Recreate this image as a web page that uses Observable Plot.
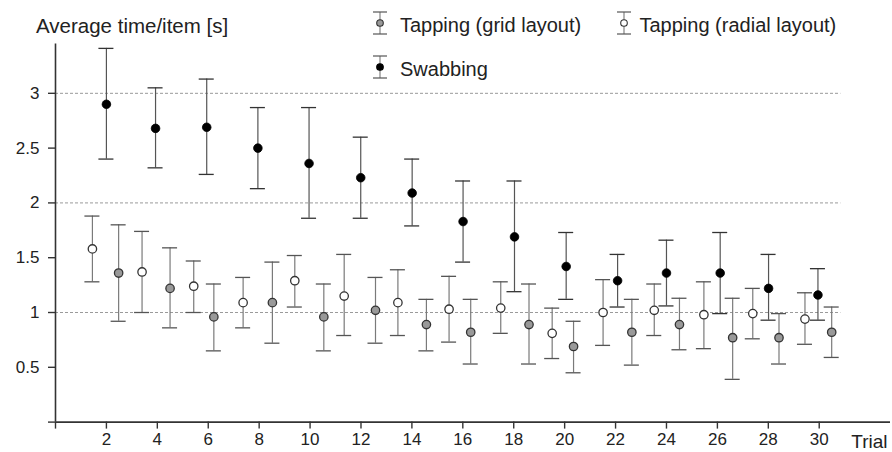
<!DOCTYPE html>
<html>
<head>
<meta charset="utf-8">
<script src="https://cdn.jsdelivr.net/npm/d3@7"></script>
<script src="https://cdn.jsdelivr.net/npm/@observablehq/plot@0.6"></script>
<style>
  html, body { margin: 0; padding: 0; background: #fff; }
  #wrap { position: relative; width: 892px; height: 452px; }
  #legend { position: absolute; left: 0; top: 0; pointer-events: none; }
  #legend text { font-family: "Liberation Sans", Arial, sans-serif; fill: #222; }
</style>
</head>
<body>
<div id="wrap"></div>
<script>
// ---- Data ----
const xTicks = [0, 2, 4, 6, 8, 10, 12, 14, 16, 18, 20, 22, 24, 26, 28, 30];
const yTicks = [0, 0.5, 1, 1.5, 2, 2.5, 3];
const gridValues = [1, 2, 3];

// Swabbing
const swabX    = [2.0, 3.93, 5.94, 7.95, 9.96, 11.99, 14.01, 16.01, 18.03, 20.06, 22.08, 24.0, 26.11, 28.01, 29.95];
const swabMean = [2.90, 2.68, 2.69, 2.50, 2.36, 2.23, 2.09, 1.83, 1.69, 1.42, 1.29, 1.36, 1.36, 1.22, 1.16];
const swabHi   = [3.41, 3.05, 3.13, 2.87, 2.87, 2.60, 2.40, 2.20, 2.20, 1.73, 1.53, 1.66, 1.73, 1.53, 1.40];
const swabLo   = [2.40, 2.32, 2.26, 2.13, 1.86, 1.86, 1.79, 1.46, 1.19, 1.12, 1.05, 1.06, 0.99, 0.93, 0.93];

// Tapping (grid layout)
const gridX    = [2.48, 4.50, 6.22, 8.52, 10.54, 12.57, 14.57, 16.31, 18.60, 20.35, 22.64, 24.51, 26.60, 28.42, 30.49];
const gridMean = [1.36, 1.22, 0.96, 1.09, 0.96, 1.02, 0.89, 0.82, 0.89, 0.69, 0.82, 0.89, 0.77, 0.77, 0.82];
const gridHi   = [1.80, 1.59, 1.26, 1.46, 1.26, 1.32, 1.12, 1.12, 1.26, 0.92, 1.12, 1.13, 1.13, 0.99, 1.05];
const gridLo   = [0.92, 0.86, 0.65, 0.72, 0.65, 0.72, 0.65, 0.53, 0.53, 0.45, 0.52, 0.66, 0.39, 0.53, 0.59];

// Tapping (radial layout)
const radX    = [1.45, 3.40, 5.43, 7.37, 9.40, 11.34, 13.45, 15.46, 17.49, 19.51, 21.51, 23.52, 25.47, 27.39, 29.44];
const radMean = [1.58, 1.37, 1.24, 1.09, 1.29, 1.15, 1.09, 1.03, 1.04, 0.81, 1.00, 1.02, 0.98, 0.99, 0.94];
const radHi   = [1.88, 1.74, 1.47, 1.32, 1.52, 1.53, 1.39, 1.33, 1.28, 1.04, 1.30, 1.26, 1.28, 1.22, 1.18];
const radLo   = [1.28, 1.00, 1.00, 0.86, 1.05, 0.79, 0.79, 0.73, 0.81, 0.58, 0.70, 0.79, 0.67, 0.76, 0.71];

const legendLabels = ["Tapping (grid layout)", "Tapping (radial layout)", "Swabbing"];
const yLabel = "Average time/item [s]";
const xLabel = "Trial";

// ---- Build tables ----
const table = (X, M, H, L) => X.map((x, i) => ({x, mean: M[i], hi: H[i], lo: L[i]}));
const swab = table(swabX, swabMean, swabHi, swabLo);
const grid = table(gridX, gridMean, gridHi, gridLo);
const radial = table(radX, radMean, radHi, radLo);

const xDomainMax = 32.8;
const gridEnd = 30.85;
const cap = 0.295; // half cap width in trial units

const barMarks = (data, stroke, capStroke) => [
  Plot.ruleX(data, {x: "x", y1: "lo", y2: "hi", stroke, strokeWidth: 1.2}),
  Plot.ruleY(data, {y: "hi", x1: d => d.x - cap, x2: d => d.x + cap, stroke: capStroke, strokeWidth: 1.3}),
  Plot.ruleY(data, {y: "lo", x1: d => d.x - cap, x2: d => d.x + cap, stroke: capStroke, strokeWidth: 1.3})
];

const chart = Plot.plot({
  width: 892,
  height: 452,
  marginLeft: 55,
  marginRight: 2,
  marginTop: 43.5,
  marginBottom: 30.4,
  x: {domain: [0, xDomainMax]},
  y: {domain: [0, 3.45]},
  style: {fontFamily: "'Liberation Sans', Arial, sans-serif", fontSize: "17px", color: "#333", background: "#fff"},
  marks: [
    Plot.ruleY(gridValues, {y: d => d, x1: 0, x2: gridEnd, stroke: "#9a9a9a", strokeWidth: 1, strokeDasharray: "3,2"}),
    Plot.axisX({ticks: xTicks, tickSize: 7, tickPadding: 4, tickFormat: d => d === 0 ? "" : String(d), label: null, strokeWidth: 1.4, fontSize: 17, fill: "#222"}),
    Plot.axisY({ticks: yTicks, tickSize: 7, tickPadding: 9, tickFormat: d => d === 0 ? "" : String(d), label: null, strokeWidth: 1.4, fontSize: 17, fill: "#222"}),
    Plot.ruleX([0], {stroke: "#333", strokeWidth: 1.6}),
    Plot.ruleY([0], {stroke: "#333", strokeWidth: 1.6}),
    ...barMarks(radial, "#7a7a7a", "#555"),
    ...barMarks(grid, "#7a7a7a", "#555"),
    ...barMarks(swab, "#555", "#333"),
    Plot.dot(radial, {x: "x", y: "mean", r: 4.2, fill: "#fff", stroke: "#333", strokeWidth: 1.3}),
    Plot.dot(grid, {x: "x", y: "mean", r: 4.2, fill: "#999", stroke: "#333", strokeWidth: 1.3}),
    Plot.dot(swab, {x: "x", y: "mean", r: 4.3, fill: "#000", stroke: "#000", strokeWidth: 0.8}),
    Plot.text([yLabel], {text: d => d, frameAnchor: "top-left", dx: -19.5, dy: -11.5, lineAnchor: "bottom", textAnchor: "start", fontSize: 20.5, fill: "#222"}),
    Plot.text([xLabel], {text: d => d, frameAnchor: "bottom-right", dx: -3, dy: 25.5, lineAnchor: "bottom", textAnchor: "end", fontSize: 19, fill: "#222"})
  ]
});

const wrap = document.getElementById("wrap");
wrap.appendChild(chart);

// ---- Legend (overlay) ----
const ns = "http://www.w3.org/2000/svg";
const leg = document.createElementNS(ns, "svg");
leg.setAttribute("id", "legend");
leg.setAttribute("width", 892);
leg.setAttribute("height", 100);
const items = [
  {label: legendLabels[0], cx: 380, cy: 23, tx: 400, fill: "#999", stroke: "#333"},
  {label: legendLabels[1], cx: 624, cy: 23, tx: 639.5, fill: "#fff", stroke: "#333"},
  {label: legendLabels[2], cx: 380, cy: 67, tx: 400, fill: "#000", stroke: "#000"}
];
for (const it of items) {
  const g = document.createElementNS(ns, "g");
  const add = (tag, attrs) => { const e = document.createElementNS(ns, tag); for (const k in attrs) e.setAttribute(k, attrs[k]); g.appendChild(e); return e; };
  add("line", {x1: it.cx, x2: it.cx, y1: it.cy - 11, y2: it.cy + 11, stroke: "#777", "stroke-width": 1.1});
  add("line", {x1: it.cx - 7, x2: it.cx + 7, y1: it.cy - 11, y2: it.cy - 11, stroke: "#555", "stroke-width": 1.2});
  add("line", {x1: it.cx - 7, x2: it.cx + 7, y1: it.cy + 11, y2: it.cy + 11, stroke: "#555", "stroke-width": 1.2});
  add("circle", {cx: it.cx, cy: it.cy, r: 3.3, fill: it.fill, stroke: it.stroke, "stroke-width": 1.1});
  const t = add("text", {x: it.tx, y: it.cy + 8.5, "font-size": 20});
  t.textContent = it.label;
  leg.appendChild(g);
}
wrap.appendChild(leg);
</script>
</body>
</html>
